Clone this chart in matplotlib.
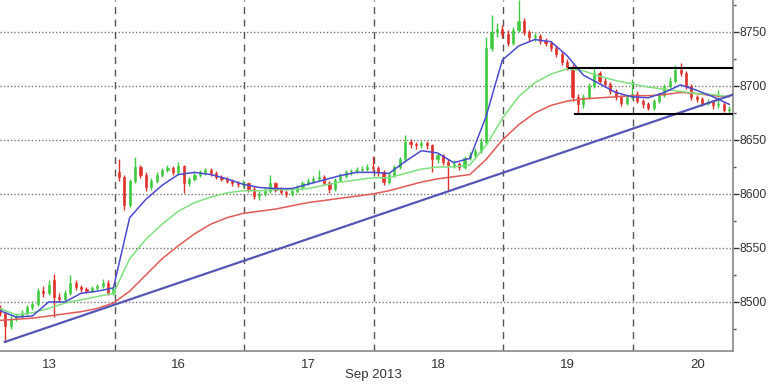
import numpy as np
import matplotlib
matplotlib.use('Agg')
import matplotlib.pyplot as plt

# hourly candles
opens = [8494, 8490, 8478, 8484, 8487, 8490, 8495, 8498, 8510, 8508, 8520, 8505,
         8503, 8508, 8518, 8514, 8512, 8510, 8513, 8515, 8518, 8508, 8620, 8616,
         8590, 8612, 8625, 8618, 8606, 8612, 8618, 8622, 8624, 8620, 8626, 8610,
         8614, 8618, 8620, 8622, 8619, 8616, 8614, 8612, 8610, 8609, 8610, 8605,
         8598, 8600, 8603, 8610, 8604, 8602, 8600, 8603, 8606, 8610, 8612, 8614,
         8616, 8610, 8605, 8613, 8617, 8620, 8621, 8622, 8623, 8625, 8624, 8620,
         8611, 8618, 8625, 8632, 8648, 8646, 8645, 8647, 8645, 8632, 8636, 8630,
         8627, 8628, 8625, 8633, 8636, 8640, 8648, 8735, 8750, 8753, 8748, 8740,
         8752, 8760, 8750, 8745, 8746, 8742, 8740, 8735, 8730, 8722, 8718, 8690,
         8683, 8690, 8700, 8712, 8705, 8702, 8695, 8690, 8684, 8690, 8693, 8686,
         8683, 8680, 8686, 8692, 8700, 8705, 8715, 8712, 8700, 8690, 8688, 8684,
         8685, 8682, 8683, 8678]
closes = [8490, 8478, 8484, 8487, 8490, 8495, 8498, 8510, 8508, 8516, 8505, 8503,
          8508, 8518, 8514, 8512, 8510, 8513, 8515, 8518, 8508, 8512, 8616, 8590,
          8612, 8625, 8618, 8606, 8612, 8618, 8622, 8624, 8620, 8626, 8610, 8614,
          8618, 8620, 8622, 8619, 8616, 8614, 8612, 8610, 8609, 8610, 8605, 8598,
          8600, 8603, 8610, 8604, 8602, 8600, 8603, 8606, 8610, 8612, 8614, 8616,
          8610, 8605, 8613, 8617, 8620, 8621, 8622, 8623, 8625, 8624, 8620, 8611,
          8618, 8625, 8632, 8648, 8646, 8645, 8647, 8645, 8632, 8636, 8630, 8627,
          8628, 8625, 8633, 8636, 8640, 8648, 8735, 8750, 8753, 8748, 8740, 8752,
          8760, 8750, 8745, 8746, 8742, 8740, 8735, 8730, 8722, 8718, 8690, 8683,
          8690, 8700, 8712, 8705, 8702, 8695, 8690, 8684, 8690, 8693, 8686, 8683,
          8680, 8686, 8692, 8700, 8705, 8715, 8712, 8700, 8690, 8688, 8684, 8685,
          8682, 8683, 8678, 8679]
highs = [8497, 8491, 8487, 8490, 8493, 8497, 8501, 8513, 8515, 8520, 8526, 8508,
         8511, 8525, 8520, 8516, 8514, 8515, 8517, 8521, 8520, 8514, 8632, 8618,
         8614, 8634, 8627, 8620, 8615, 8620, 8624, 8627, 8626, 8630, 8627, 8616,
         8620, 8622, 8624, 8624, 8621, 8618, 8616, 8614, 8612, 8613, 8611, 8607,
         8603, 8606, 8618, 8611, 8606, 8604, 8605, 8608, 8612, 8615, 8617, 8622,
         8618, 8612, 8615, 8619, 8622, 8623, 8625, 8626, 8628, 8635, 8626, 8622,
         8620, 8627, 8634, 8655, 8651, 8648, 8649, 8649, 8646, 8638, 8637, 8632,
         8631, 8630, 8635, 8639, 8643, 8652, 8745, 8766, 8758, 8756, 8752, 8755,
         8780, 8763, 8752, 8749, 8748, 8744, 8742, 8737, 8732, 8725, 8720, 8693,
         8693, 8703, 8717, 8714, 8707, 8704, 8697, 8692, 8692, 8706, 8695, 8688,
         8685, 8688, 8694, 8702, 8708, 8719, 8721, 8714, 8702, 8692, 8690, 8688,
         8687, 8696, 8685, 8681]
lows = [8487, 8463, 8475, 8482, 8485, 8488, 8493, 8496, 8505, 8506, 8486, 8500,
        8501, 8506, 8511, 8509, 8508, 8509, 8511, 8513, 8506, 8506, 8612, 8585,
        8588, 8610, 8615, 8603, 8604, 8610, 8616, 8620, 8618, 8618, 8601, 8607,
        8612, 8616, 8618, 8617, 8614, 8612, 8610, 8607, 8606, 8606, 8602, 8595,
        8594, 8598, 8601, 8602, 8600, 8597, 8598, 8601, 8604, 8608, 8610, 8612,
        8608, 8601, 8603, 8611, 8615, 8618, 8619, 8620, 8621, 8621, 8617, 8608,
        8609, 8616, 8623, 8630, 8643, 8642, 8643, 8642, 8620, 8629, 8627, 8604,
        8624, 8622, 8623, 8631, 8634, 8638, 8646, 8732, 8745, 8744, 8737, 8738,
        8750, 8747, 8742, 8742, 8739, 8737, 8732, 8727, 8719, 8715, 8686, 8675,
        8680, 8688, 8698, 8703, 8699, 8693, 8687, 8681, 8682, 8688, 8684, 8680,
        8678, 8678, 8684, 8690, 8698, 8703, 8709, 8697, 8687, 8685, 8681, 8682,
        8679, 8680, 8676, 8675]

# moving averages, read every 3 hours
ma_blue = [8492, 8486, 8487, 8500, 8500, 8508, 8510, 8513, 8578, 8595, 8608, 8618,
           8620, 8618, 8614, 8609, 8606, 8605, 8605, 8609, 8613, 8617, 8620, 8620,
           8619, 8630, 8640, 8638, 8629, 8633, 8672, 8724, 8737, 8743, 8741, 8728,
           8710, 8702, 8694, 8690, 8689, 8694, 8701, 8696, 8690, 8683]
ma_green = [8494, 8488, 8490, 8494, 8499, 8502, 8505, 8508, 8540, 8558, 8572, 8584,
            8592, 8597, 8601, 8603, 8603, 8604, 8604, 8605, 8608, 8611, 8613, 8615,
            8615, 8619, 8623, 8625, 8625, 8627, 8645, 8670, 8690, 8703, 8711, 8716,
            8714, 8709, 8705, 8702, 8699, 8697, 8695, 8693, 8692, 8690]
ma_red = [8483, 8484, 8485, 8487, 8489, 8491, 8494, 8499, 8510, 8525, 8540, 8552,
          8563, 8572, 8578, 8582, 8584, 8586, 8589, 8592, 8594, 8596, 8598, 8600,
          8603, 8607, 8611, 8614, 8616, 8618, 8632, 8650, 8664, 8675, 8682, 8686,
          8688, 8689, 8690, 8691, 8691, 8692, 8694, 8693, 8691, 8690]

trend_values = [8463, 8692]
range_top = 8717
range_bottom = 8674

day_labels = ['13', '16', '17', '18', '19', '20']
month_label = 'Sep 2013'
price_ticks = [8500, 8550, 8600, 8650, 8700, 8750]

fig = plt.figure(figsize=(7.68, 3.84), dpi=100)
ax = fig.add_axes([0.0, 33 / 384, 733 / 768, 351 / 384])

n = len(closes)
x = np.arange(n)
o = np.array(opens)
c = np.array(closes)
up = c >= o
cols = np.where(up, '#3fc93f', '#e0302a')

ax.vlines(x, lows, highs, colors=cols, linewidth=1.0, zorder=3)
body_lo = np.minimum(o, c)
body_h = np.maximum(np.abs(c - o), 0.8)
ax.bar(x, body_h, bottom=body_lo, width=0.4, color=cols, edgecolor=cols,
       linewidth=0.4, zorder=3)

xm = np.arange(0, n, 3)
ax.plot(xm, ma_red, color='#e05a55', lw=1.1, zorder=4)
ax.plot(xm, ma_green, color='#7fe07f', lw=1.1, zorder=4)
ax.plot(xm, ma_blue, color='#4a4ad0', lw=1.1, zorder=4)

ax.plot([0.9, 135.7], trend_values, color='#5555b5', lw=1.6, zorder=5)
ax.plot([105.4, 135.7], [range_top, range_top], color='black', lw=1.5, zorder=5)
ax.plot([106.5, 135.7], [range_bottom, range_bottom], color='black', lw=1.5, zorder=5)

ax.set_xlim(0, 135.7)
ax.set_ylim(8454.6, 8779.6)

for yv in price_ticks:
    ax.axhline(yv, color='#777777', lw=1.0, ls=(0, (1, 1.5)), zorder=1)
for k in range(5):
    ax.axvline(21.2 + 24 * k, color='#555555', lw=1.0, ls=(0, (5, 4)), zorder=1)

ax.set_xticks([9.1 + 24 * k for k in range(len(day_labels))])
ax.set_xticklabels(day_labels)
ax.yaxis.tick_right()
ax.set_yticks(price_ticks)
ax.set_yticks([8475, 8525, 8575, 8625, 8675, 8725, 8775], minor=True)
ax.tick_params(axis='y', which='major', length=4, width=1, color='#333333',
               labelsize=8.8, labelcolor='#333333', pad=1)
ax.tick_params(axis='y', which='minor', length=2, width=1, color='#555555')
ax.tick_params(axis='x', length=0, labelsize=9.5, labelcolor='#333333', pad=6)
for lab in ax.get_xticklabels() + ax.get_yticklabels():
    lab.set_family('Liberation Sans')

for s in ['top', 'left']:
    ax.spines[s].set_visible(False)
for s in ['right', 'bottom']:
    ax.spines[s].set_color('#888888')
    ax.spines[s].set_linewidth(1.2)

ax.text(69.1, -0.052, month_label, transform=ax.get_xaxis_transform(),
        ha='center', va='top', fontsize=9.5, color='#333333',
        family='Liberation Sans')

fig.savefig('out.png', dpi=100)
